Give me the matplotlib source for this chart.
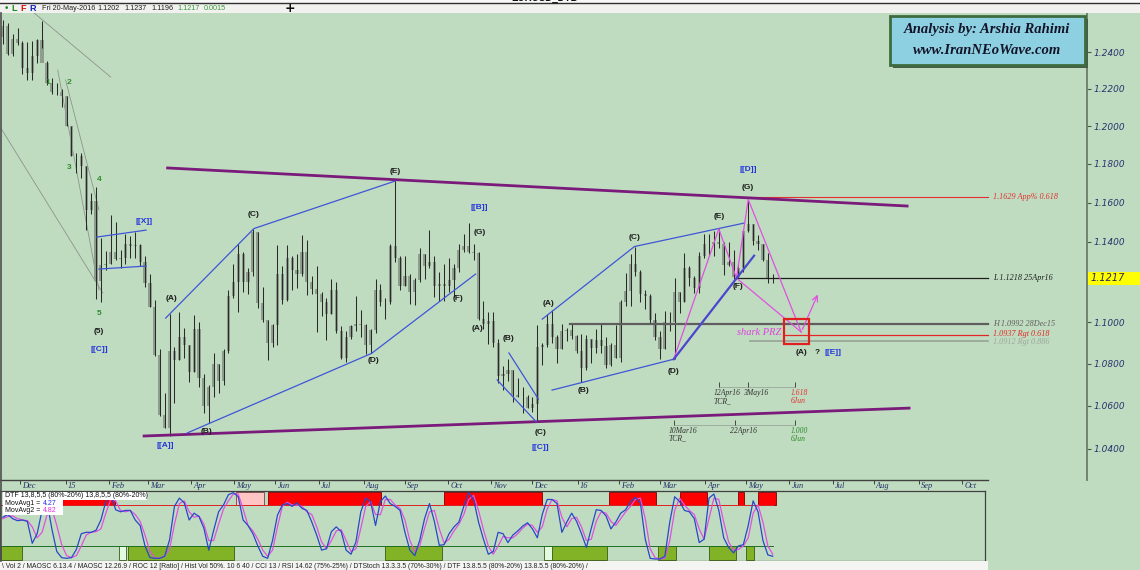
import numpy as np
import matplotlib
matplotlib.use('Agg')
import matplotlib.pyplot as plt
from matplotlib.patches import Rectangle
from matplotlib.transforms import blended_transform_factory
from matplotlib.ticker import FixedLocator, NullLocator, FixedFormatter

W, H = 1140, 570
BG = '#c0dcc0'
SERIF = 'Liberation Serif'
SANS = 'Liberation Sans'

# EURUSD, half-week bars (Mon-Wed, Thu-Fri), week of 17 Nov 2014 .. week of 16 May 2016
START = '2014-11-17'
first_open = 1.2480
bar_high = [
    1.2575, 1.2560, 1.2500, 1.2530, 1.2460, 1.2455, 1.2460, 1.2470,
    1.2570, 1.2350, 1.2260, 1.2230, 1.2200, 1.2160, 1.2000, 1.1860,
    1.1860, 1.1790, 1.1650, 1.1680, 1.1420, 1.1355, 1.1534, 1.1500,
    1.1360, 1.1440, 1.1430, 1.1450, 1.1390, 1.1330, 1.1240, 1.1110,
    1.0870, 1.0660, 1.1043, 1.0880, 1.1052, 1.0975, 1.0890, 1.1035,
    1.1000, 1.0750, 1.0700, 1.0850, 1.0800, 1.0870, 1.1160, 1.1290,
    1.1391, 1.1350, 1.1270, 1.1467, 1.1450, 1.1175, 1.1010, 1.0990,
    1.1385, 1.1280, 1.1386, 1.1330, 1.1340, 1.1436, 1.1410, 1.1230,
    1.1280, 1.1150, 1.1120, 1.1215, 1.1200, 1.0980, 1.0960, 1.0985,
    1.1128, 1.1060, 1.0990, 1.0970, 1.1215, 1.1190, 1.1120, 1.1390,
    1.1714, 1.1330, 1.1330, 1.1240, 1.1220, 1.1370, 1.1340, 1.1460,
    1.1328, 1.1250, 1.1290, 1.1318, 1.1290, 1.1387, 1.1440, 1.1495,
    1.1390, 1.1350, 1.1104, 1.1050, 1.1050, 1.0920, 1.0790, 1.0825,
    1.0770, 1.0730, 1.0690, 1.0650, 1.0640, 1.0985, 1.0900, 1.1043,
    1.1060, 1.0940, 1.0990, 1.0975, 1.0992, 1.0940, 1.0945, 1.0940,
    1.0920, 1.0970, 1.0990, 1.0930, 1.0900, 1.0985, 1.1110, 1.1245,
    1.1340, 1.1376, 1.1260, 1.1160, 1.1140, 1.1045, 1.0960, 1.1057,
    1.1050, 1.1218, 1.1150, 1.1342, 1.1280, 1.1230, 1.1350, 1.1438,
    1.1440, 1.1453, 1.1465, 1.1400, 1.1400, 1.1360, 1.1290, 1.1460,
    1.1616, 1.1490, 1.1434, 1.1390, 1.1345, 1.1237,
]
bar_low = [
    1.2445, 1.2385, 1.2380, 1.2440, 1.2280, 1.2245, 1.2245, 1.2340,
    1.2420, 1.2220, 1.2170, 1.2165, 1.2100, 1.2000, 1.1840, 1.1755,
    1.1725, 1.1460, 1.1540, 1.1115, 1.1098, 1.1260, 1.1290, 1.1310,
    1.1270, 1.1290, 1.1320, 1.1316, 1.1280, 1.1176, 1.1075, 1.0838,
    1.0555, 1.0495, 1.0462, 1.0613, 1.0820, 1.0830, 1.0713, 1.0760,
    1.0690, 1.0568, 1.0520, 1.0640, 1.0660, 1.0700, 1.0850, 1.1120,
    1.1052, 1.1150, 1.1137, 1.1230, 1.1070, 1.1000, 1.0819, 1.0880,
    1.0888, 1.1090, 1.1105, 1.1160, 1.1170, 1.1230, 1.1133, 1.1140,
    1.0955, 1.1030, 1.0915, 1.1040, 1.0950, 1.0825, 1.0809, 1.0920,
    1.0960, 1.0930, 1.0848, 1.0850, 1.0950, 1.1080, 1.1016, 1.1090,
    1.1300, 1.1160, 1.1180, 1.1088, 1.1087, 1.1200, 1.1213, 1.1270,
    1.1125, 1.1105, 1.1105, 1.1150, 1.1122, 1.1250, 1.1346, 1.1345,
    1.1310, 1.1010, 1.0970, 1.0897, 1.0880, 1.0710, 1.0674, 1.0720,
    1.0617, 1.0640, 1.0567, 1.0590, 1.0570, 1.0524, 1.0796, 1.0880,
    1.0900, 1.0805, 1.0870, 1.0910, 1.0920, 1.0853, 1.0711, 1.0770,
    1.0806, 1.0850, 1.0850, 1.0778, 1.0790, 1.0830, 1.0810, 1.1080,
    1.1080, 1.1230, 1.1100, 1.1067, 1.0990, 1.0914, 1.0822, 1.0870,
    1.0960, 1.0822, 1.1048, 1.1100, 1.1180, 1.1144, 1.1144, 1.1320,
    1.1327, 1.1330, 1.1370, 1.1232, 1.1280, 1.1214, 1.1218, 1.1250,
    1.1450, 1.1385, 1.1360, 1.1305, 1.1195, 1.1196,
]
bar_close = [
    1.2545, 1.2390, 1.2470, 1.2450, 1.2310, 1.2285, 1.2380, 1.2465,
    1.2340, 1.2230, 1.2180, 1.2180, 1.2160, 1.2000, 1.1840, 1.1840,
    1.1790, 1.1560, 1.1610, 1.1205, 1.1285, 1.1290, 1.1350, 1.1315,
    1.1320, 1.1390, 1.1380, 1.1385, 1.1300, 1.1195, 1.1075, 1.0840,
    1.0560, 1.0495, 1.0860, 1.0820, 1.0930, 1.0890, 1.0760, 1.0970,
    1.0730, 1.0600, 1.0690, 1.0800, 1.0720, 1.0860, 1.1130, 1.1200,
    1.1340, 1.1200, 1.1250, 1.1450, 1.1095, 1.1010, 1.0900, 1.0985,
    1.1240, 1.1110, 1.1320, 1.1260, 1.1240, 1.1350, 1.1200, 1.1165,
    1.1140, 1.1100, 1.1040, 1.1160, 1.0960, 1.0830, 1.0930, 1.0980,
    1.0990, 1.0985, 1.0890, 1.0965, 1.1160, 1.1100, 1.1100, 1.1380,
    1.1320, 1.1180, 1.1230, 1.1150, 1.1210, 1.1340, 1.1280, 1.1300,
    1.1180, 1.1190, 1.1180, 1.1210, 1.1270, 1.1360, 1.1380, 1.1350,
    1.1345, 1.1015, 1.0990, 1.1005, 1.0900, 1.0740, 1.0750, 1.0770,
    1.0650, 1.0640, 1.0640, 1.0590, 1.0610, 1.0880, 1.0890, 1.0990,
    1.0930, 1.0870, 1.0960, 1.0965, 1.0935, 1.0860, 1.0780, 1.0920,
    1.0875, 1.0915, 1.0885, 1.0795, 1.0890, 1.0830, 1.1100, 1.1155,
    1.1290, 1.1250, 1.1140, 1.1130, 1.1010, 1.0930, 1.0870, 1.1000,
    1.1000, 1.1150, 1.1100, 1.1270, 1.1220, 1.1170, 1.1330, 1.1390,
    1.1390, 1.1400, 1.1390, 1.1285, 1.1300, 1.1225, 1.1270, 1.1455,
    1.1490, 1.1405, 1.1390, 1.1310, 1.1220, 1.1217,
]

# DTF oscillator (fast line and its moving average), same bars
dtf_fast = [
    62, 66, 60, 57, 58, 56, 24, 38, 72, 85, 45, 12, 3, 2, 3, 15,
    38, 40, 40, 43, 58, 85, 97, 73, 70, 72, 72, 58, 50, 20, 3, 2,
    2, 5, 29, 78, 90, 83, 58, 68, 63, 46, 14, 43, 70, 80, 95, 98,
    92, 58, 50, 38, 20, 5, 2, 28, 65, 80, 82, 78, 83, 75, 72, 55,
    36, 14, 16, 41, 48, 41, 14, 8, 26, 70, 90, 85, 50, 85, 93, 82,
    78, 72, 40, 14, 6, 28, 60, 82, 56, 21, 22, 38, 48, 55, 78, 98,
    88, 55, 30, 8, 12, 40, 38, 25, 36, 42, 49, 54, 45, 32, 66, 88,
    88, 82, 40, 55, 68, 56, 38, 18, 46, 73, 72, 64, 45, 55, 68, 73,
    85, 91, 83, 30, 2, 1, 1, 5, 55, 92, 85, 72, 70, 60, 25, 30,
    90, 96, 72, 32, 18, 10, 20, 22, 50, 86, 70, 28, 7, 5,
]
dtf_slow = [
    60, 63, 64, 60, 58, 57, 48, 32, 40, 65, 75, 50, 22, 6, 3, 6,
    20, 36, 40, 41, 45, 68, 88, 86, 72, 70, 72, 66, 56, 36, 12, 3,
    2, 6, 15, 52, 82, 86, 70, 62, 64, 52, 28, 28, 52, 74, 86, 96,
    96, 74, 50, 42, 30, 14, 5, 14, 48, 78, 84, 80, 80, 78, 70, 66,
    48, 26, 16, 28, 42, 44, 28, 12, 16, 46, 78, 85, 66, 66, 88, 88,
    80, 75, 58, 28, 12, 20, 46, 70, 72, 45, 24, 30, 42, 52, 66, 88,
    94, 72, 44, 20, 8, 20, 34, 32, 32, 38, 46, 52, 50, 40, 48, 74,
    88, 86, 62, 48, 60, 62, 48, 28, 30, 56, 70, 68, 56, 50, 60, 70,
    78, 88, 90, 60, 16, 3, 1, 2, 28, 72, 90, 80, 72, 66, 45, 30,
    60, 90, 88, 55, 26, 14, 15, 20, 32, 68, 80, 55, 20, 8,
]
dtf_red = [('2014-12-17', '2015-02-04'), ('2015-05-26', '2015-08-13'),
           ('2015-09-29', '2015-12-07'), ('2016-01-25', '2016-02-25'),
           ('2016-03-15', '2016-04-01'), ('2016-04-26', '2016-04-28'),
           ('2016-05-10', '2016-05-20')]
dtf_pink = [('2015-05-04', '2015-05-21')]
dtf_green = [('2014-11-17', '2014-12-01'), ('2015-02-16', '2015-04-30'),
             ('2015-08-18', '2015-09-25'), ('2015-12-15', '2016-01-21'),
             ('2016-02-29', '2016-03-10'), ('2016-04-05', '2016-04-22'),
             ('2016-05-02', '2016-05-05')]
dtf_pale = [('2015-02-09', '2015-02-12'), ('2015-12-09', '2015-12-14')]

month_labels = ['Dec', '15', 'Feb', 'Mar', 'Apr', 'May', 'Jun', 'Jul', 'Aug', 'Sep', 'Oct', 'Nov',
                'Dec', '16', 'Feb', 'Mar', 'Apr', 'May', 'Jun', 'Jul', 'Aug', 'Sep', 'Oct']
price_ticks = [1.04, 1.06, 1.08, 1.10, 1.12, 1.14, 1.16, 1.18, 1.20, 1.22, 1.24]
# 1.1200 sits under the last-price marker
price_labels = ['1.0400', '1.0600', '1.0800', '1.1000', '', '1.1400', '1.1600', '1.1800',
                '1.2000', '1.2200', '1.2400']

# drawn analysis (dates, prices)
purple_lines = [(['2015-03-16', '2016-08-24'], [1.1779, 1.1582]),
                (['2015-02-26', '2016-08-25'], [1.0460, 1.0590])]
blue_lines = [(['2015-01-23', '2015-02-27'], [1.1424, 1.1459]),
              (['2015-01-26', '2015-02-27'], [1.1263, 1.1278]),
              (['2015-03-13', '2015-05-15', '2015-08-25'], [1.1021, 1.1467, 1.1711]),
              (['2015-03-30', '2015-08-07', '2015-10-21'], [1.0474, 1.0850, 1.1238]),
              (['2015-11-13', '2015-12-04'], [1.0852, 1.0633]),
              (['2015-11-05', '2015-12-03'], [1.0723, 1.0525]),
              (['2015-12-08', '2016-02-11', '2016-04-29'], [1.1016, 1.1376, 1.1495]),
              (['2015-12-15', '2016-03-10'], [1.0675, 1.0822])]
gray_lines = [(['2014-12-10', '2015-02-03'], [1.2616, 1.2263]),
              (['2014-11-17', '2015-01-28'], [1.1989, 1.1144]),
              (['2014-12-26', '2015-01-26'], [1.2301, 1.1159]),
              (['2015-01-01', '2015-01-26'], [1.2247, 1.1562])]
shark_dates = ['2016-03-10', '2016-04-12', '2016-04-25', '2016-05-03', '2016-06-09']
shark_prices = [1.0822, 1.1465, 1.1218, 1.1616, 1.0953]
shark_target = ('2016-06-22', 1.1149)
df_ext = (['2016-03-10', '2016-05-06'], [1.0822, 1.1330])
prz_box = (('2016-05-27', '2016-06-15'), (1.0895, 1.1016))

levels = [1.1629, 1.1218, 1.0992, 1.0937, 1.0912]
level_start = ['2016-05-03', '2016-04-25', '2015-12-28', '2016-05-27', '2016-05-04']
level_text = ['1.1629 App% 0.618', 'L 1.1218 25Apr16', 'H 1.0992 28Dec15',
              '1.0937 Rgt 0.618', '1.0912 Rgt 0.886']
level_color = ['#e03030', '#1e1e1e', '#5e5e5e', '#e02828', '#9aa89a']
level_width = [0.8, 0.9, 1.6, 0.9, 1.3]
level_nudge = [0, 0, 0, 1.3, -1.3]   # points, keeps the two close labels apart

green_labels = [('1', '2014-12-19', 1.2236), ('2', '2015-01-05', 1.2236),
                ('3', '2015-01-05', 1.1779), ('4', '2015-01-26', 1.1721),
                ('5', '2015-01-26', 1.1041)]
black_labels = [('(5)', '2015-01-26', 1.0958), ('(A)', '2015-03-18', 1.1119),
                ('(B)', '2015-04-13', 1.0483), ('(C)', '2015-05-15', 1.1541),
                ('(D)', '2015-08-10', 1.0818), ('(E)', '2015-08-25', 1.1758),
                ('(F)', '2015-10-08', 1.1119), ('(G)', '2015-10-23', 1.1449),
                ('(A)', '2015-10-22', 1.0972), ('(B)', '2015-11-13', 1.0924),
                ('(C)', '2015-12-07', 1.0478), ('(A)', '2015-12-11', 1.1090),
                ('(B)', '2016-01-06', 1.0675), ('(C)', '2016-02-11', 1.1424),
                ('(D)', '2016-03-10', 1.0765), ('(E)', '2016-04-12', 1.1526),
                ('(F)', '2016-04-26', 1.1174), ('(G)', '2016-05-03', 1.1675),
                ('(A)', '2016-06-09', 1.0852), ('?', '2016-06-21', 1.0852)]
blue_labels = [('[[C]]', '2015-01-26', 1.0871), ('[[X]]', '2015-02-26', 1.1505),
               ('[[A]]', '2015-03-13', 1.0414), ('[[B]]', '2015-10-23', 1.1577),
               ('[[C]]', '2015-12-07', 1.0409), ('[[D]]', '2016-05-03', 1.1773),
               ('[[E]]', '2016-07-01', 1.0852)]

time_rows = [(1.0689, ['2016-04-12', '2016-05-03', '2016-06-06'],
              ['12Apr16\nTCR_', '3May16', '1.618\n6Jun'], ['#303030', '#303030', '#e03030']),
             (1.0511, ['2016-03-10', '2016-04-22', '2016-06-06'],
              ['10Mar16\nTCR_', '22Apr16', '1.000\n6Jun'], ['#303030', '#303030', '#2a8a2a'])]


def bx(d):
    return np.busday_count(np.datetime64(START), np.array(d, dtype='datetime64[D]'))


def fx(px):
    return px / W


def fy(py):
    return 1 - py / H


fig = plt.figure(figsize=(W / 100, H / 100), dpi=100)
fig.patch.set_facecolor(BG)

# ---------------- main price panel ----------------
ax = fig.add_axes([0, fy(480), fx(1087), 470 / H])
ax.set_facecolor(BG)
ax.set_yscale('log')
ax.set_ylim(1.0258, 1.2633)
ax.set_xlim(-0.44, 553.7)
XEND = 503

nb = len(bar_close)
weeks = np.arange(nb // 2)
xs = np.empty(nb)
xs[0::2] = 5 * weeks + 1
xs[1::2] = 5 * weeks + 3.5
hi, lo, cl = np.array(bar_high), np.array(bar_low), np.array(bar_close)
op = np.r_[first_open, cl[:-1]]
bot = np.minimum(op, cl)
top = np.maximum(op, cl)
ax.bar(xs, top - bot, bottom=bot, width=1.6, color='#8e9e8e', zorder=2)
ax.vlines(xs, lo, hi, color='#2a2a2a', lw=0.75, zorder=3)

for d, p in purple_lines:
    ax.plot(bx(d), p, color='#7a1a7a', lw=2.0, zorder=4)
for d, p in blue_lines:
    ax.plot(bx(d), p, color='#3f55d8', lw=0.9, zorder=4)
for d, p in gray_lines:
    ax.plot(bx(d), p, color='#8c948c', lw=0.6, zorder=1)

# shark pattern
sx = bx(shark_dates)
ax.plot(sx, shark_prices, color='#e050e0', lw=0.9, zorder=5)
ax.plot(sx[[0, 2, 4]], np.array(shark_prices)[[0, 2, 4]], color='#e050e0', lw=0.9, zorder=5)
ax.plot(bx(df_ext[0]), df_ext[1], color='#4b48d0', lw=1.6, zorder=5)
ax.annotate('', xy=(bx(shark_target[0]), shark_target[1]), xytext=(sx[-1], shark_prices[-1]),
            arrowprops=dict(arrowstyle='->', color='#e050e0', lw=0.9), zorder=5)
(b0, b1), (p0, p1) = prz_box
ax.add_patch(Rectangle((bx(b0), p0), bx(b1) - bx(b0), p1 - p0, fill=False,
                       ec='#e02020', lw=1.6, zorder=6))
ax.text(bx('2016-05-26'), shark_prices[-1], 'shark PRZ', ha='right', va='center',
        fontsize=7.5, style='italic', family=SERIF, color='#e040e0', zorder=6)

# horizontal levels with their labels
ytr = ax.get_yaxis_transform()
for lvl, st, txt, col, lw, dy in zip(levels, level_start, level_text, level_color,
                                     level_width, level_nudge):
    ax.plot([bx(st), XEND], [lvl, lvl], color=col, lw=lw, zorder=3)
    ax.annotate(txt, (993 / 1087, lvl), xycoords=ytr, xytext=(0, dy), textcoords='offset points',
                va='center', ha='left', fontsize=5.9, style='italic', family=SERIF, color=col,
                annotation_clip=False)

# wave labels
for txt, d, p in green_labels:
    ax.text(bx(d), p, txt, ha='center', va='center', fontsize=6, weight='bold',
            family=SANS, color='#2e8b2e', zorder=7)
for txt, d, p in black_labels:
    ax.text(bx(d), p, txt, ha='center', va='center', fontsize=6, weight='bold',
            family=SANS, color='#1c1c1c', zorder=7)
for txt, d, p in blue_labels:
    ax.text(bx(d), p, txt, ha='center', va='center', fontsize=6, weight='bold',
            family=SANS, color='#2233dd', zorder=7)

# fibonacci time rows
for lvl, dates, texts, cols in time_rows:
    tx = bx(dates)
    ax.plot([tx[0], tx[-1]], [lvl, lvl], color='#9aa59a', lw=0.6)
    ax.vlines(tx, lvl, lvl * 1.0022, color='#303030', lw=0.6)
    for x, t, c in zip(tx, texts, cols):
        ax.annotate(t, (x, lvl), xytext=(-3.5, -1.5), textcoords='offset points',
                    ha='left', va='top', fontsize=5.5, style='italic', family=SERIF,
                    color=c, linespacing=0.95)

# axes decoration
for s in ['top', 'left', 'bottom']:
    ax.spines[s].set_visible(False)
ax.spines['right'].set_color('#6b7b6b')
ax.spines['right'].set_linewidth(1.3)
ax.set_xticks([])
ax.yaxis.tick_right()
ax.yaxis.set_major_locator(FixedLocator(price_ticks))
ax.yaxis.set_minor_locator(NullLocator())
ax.yaxis.set_major_formatter(FixedFormatter(price_labels))
ax.tick_params(axis='y', direction='out', length=3, width=0.8, color='#4a5a4a', pad=1.5,
               labelsize=6.5, labelcolor='#28346e')
for t in ax.get_yticklabels():
    t.set_fontstyle('italic')

ax.plot([0, 988 / 1087], [0, 0], transform=ax.transAxes, color='#404040', lw=1.0, clip_on=False)
months = np.arange(np.datetime64('2014-12'), np.datetime64('2016-11'))
month_x = bx(np.busday_offset(months.astype('datetime64[D]'), 0, roll='forward'))
mtr = blended_transform_factory(ax.transData, ax.transAxes)
ax.vlines(month_x, -0.008, 0, transform=mtr, color='#404040', lw=0.7, clip_on=False)
for x, lab in zip(month_x, month_labels):
    ax.annotate(lab, (x, 0), xycoords=mtr, xytext=(1.5, -1.2), textcoords='offset points',
                ha='left', va='top', fontsize=6, style='italic', family=SERIF,
                color='#22306a', annotation_clip=False)

# ---------------- DTF indicator panel ----------------
ax2 = fig.add_axes([0, fy(561), fx(985), 70 / H])
ax2.set_facecolor(BG)
ax2.set_xlim(-0.44, 501.7)
ax2.set_ylim(-1.9, 100.4)
ax2.set_xticks([])
ax2.set_yticks([])
for s in ax2.spines.values():
    s.set_color('#404040')
    s.set_linewidth(0.9)
for zones, y0, h, fc, ec in [(dtf_red, 80, 19.2, '#ff0000', '#7a0000'),
                             (dtf_pink, 80, 19.2, '#ffc4c4', '#7a4040'),
                             (dtf_green, -0.3, 20.3, '#82b226', '#3a5a10'),
                             (dtf_pale, -0.3, 20.3, '#e2fae2', '#3a5a10')]:
    for s0, s1 in zones:
        x0, x1 = bx(s0), bx(s1) + 1
        ax2.add_patch(Rectangle((x0, y0), x1 - x0, h, fc=fc, ec=ec, lw=0.6, zorder=1))
ax2.plot([0, xs[-1]], [80, 80], color='#e02020', lw=0.7, zorder=2)
ax2.plot([0, xs[-1]], [20, 20], color='#207020', lw=0.7, zorder=2)
ax2.plot(xs, dtf_slow, color='#e050e0', lw=0.9, zorder=3)
ax2.plot(xs, dtf_fast, color='#2848c8', lw=0.9, zorder=4)

# legend box of the indicator
fig.add_artist(Rectangle((fx(3), fy(499.5)), fx(144), 7.5 / H, transform=fig.transFigure,
                         fc='white', ec='none'))
fig.add_artist(Rectangle((fx(3), fy(515)), fx(60), 16 / H, transform=fig.transFigure,
                         fc='white', ec='none'))
fig.text(fx(5), fy(495.8), 'DTF 13,8,5,5 (80%-20%) 13,8,5,5 (80%-20%)', fontsize=5,
         va='center', family=SANS, color='#101010')
fig.text(fx(5), fy(503.2), 'MovAvg1 =', fontsize=5, va='center', family=SANS, color='#101010')
fig.text(fx(43), fy(503.2), '4.27', fontsize=5, va='center', family=SANS, color='#2030e0')
fig.text(fx(5), fy(510.6), 'MovAvg2 =', fontsize=5, va='center', family=SANS, color='#101010')
fig.text(fx(43), fy(510.6), '4.82', fontsize=5, va='center', family=SANS, color='#e030e0')

# bottom tab strip
fig.add_artist(Rectangle((0, 0), fx(988), 9 / H, transform=fig.transFigure,
                         fc='#f4f4f2', ec='none'))
fig.text(fx(2), fy(566), '\\ Vol 2 / MAOSC 6.13.4 / MAOSC 12.26.9 / ROC 12 [Ratio] / '
         'Hist Vol 50%. 10 6 40 / CCI 13 / RSI 14.62 (75%-25%) / DTStoch 13.3.3.5 (70%-30%) '
         '/ DTF 13.8.5.5 (80%-20%) 13.8.5.5 (80%-20%) /', fontsize=4.9, va='center',
         family=SANS, color='#202020')

# ---------------- header strip ----------------
fig.add_artist(Rectangle((0, fy(3)), 1, 3 / H, transform=fig.transFigure, fc='#f8f8f8', ec='none'))
fig.add_artist(Rectangle((0, fy(13)), 1, 10 / H, transform=fig.transFigure, fc='#f1f1ef', ec='none'))
fig.add_artist(plt.Line2D([0, 1], [fy(3), fy(3)], transform=fig.transFigure, color='#303030', lw=1.0))
fig.text(fx(545), 1.003, 'EURUSD_DTB', ha='center', va='center', fontsize=7, weight='bold',
         family=SANS, color='#101010')
hy = fy(8.5)
fig.text(fx(4), hy, '\u2022', fontsize=6.5, va='center', color='#1a8a1a')
fig.text(fx(11), hy, 'L', fontsize=6.5, va='center', weight='bold', family=SANS, color='#1a8a1a')
fig.text(fx(20), hy, 'F', fontsize=6.5, va='center', weight='bold', family=SANS, color='#d01010')
fig.text(fx(29), hy, 'R', fontsize=6.5, va='center', weight='bold', family=SANS, color='#1020c0')
fig.text(fx(42), hy, 'Fri 20-May-2016', fontsize=5.2, va='center', family=SANS, color='#202020')
for px, t, c in [(97, '1.1202', '#202020'), (124, '1.1237', '#202020'), (151, '1.1196', '#202020'),
                 (177, '1.1217', '#3a9a3a'), (204, '0.0015', '#3a9a3a')]:
    fig.text(fx(px), hy, t, fontsize=5.2, va='center', family=SANS, color=c)
fig.text(fx(285), hy, '+', fontsize=9, va='center', weight='bold', color='#101010')

# analysis box
fig.add_artist(Rectangle((fx(893), fy(68)), fx(195), 49 / H, transform=fig.transFigure,
                         fc='#4a5a4a', ec='none'))
fig.add_artist(Rectangle((fx(890), fy(65)), fx(195), 49 / H, transform=fig.transFigure,
                         fc='#8dd0e2', ec='#3e6b3e', lw=2))
fig.text(fx(987), fy(30), 'Analysis by: Arshia Rahimi', ha='center', va='center', fontsize=10.5,
         style='italic', weight='bold', family=SERIF, color='#141428')
fig.text(fx(987), fy(50), 'www.IranNEoWave.com', ha='center', va='center', fontsize=10.5,
         style='italic', weight='bold', family=SERIF, color='#141428')

# last price marker on the price scale
ylast = ax.transData.transform((0, bar_close[-1]))[1] / H
fig.add_artist(Rectangle((fx(1088), ylast - 6.5 / H), fx(52), 13 / H, transform=fig.transFigure,
                         fc='#ffff00', ec='none'))
fig.text(fx(1091), ylast, '%.4f' % bar_close[-1], va='center', fontsize=7, style='italic',
         color='#2a2a50')

# left frame edge
fig.add_artist(plt.Line2D([fx(0.5), fx(0.5)], [fy(561), fy(13)], transform=fig.transFigure,
                          color='#505050', lw=1.2))

fig.savefig('out.png', dpi=100, facecolor=BG)
